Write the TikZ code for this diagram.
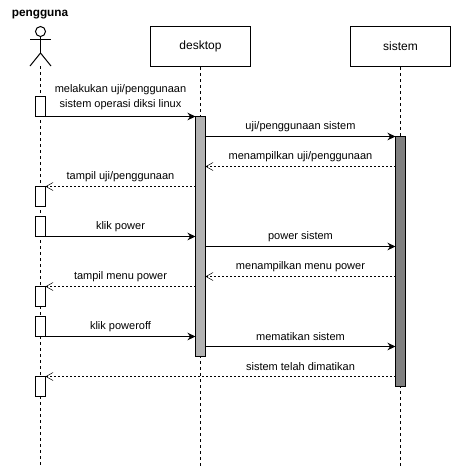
\documentclass[tikz,border=0pt]{standalone}
\usepackage{fontspec}
\setmainfont{Liberation Sans}
\usetikzlibrary{arrows.meta}
\tikzset{
    head/.style={draw, line width=1pt, minimum width=100pt, minimum height=40pt, font=\fontsize{12}{14}\selectfont},
    life/.style={line width=1pt, dash pattern=on 3pt off 3pt},
    bar/.style={draw, line width=1pt, minimum width=10pt, inner sep=0pt, outer sep=0pt, fill=white},
    msg/.style={line width=1pt, -{Stealth[length=8pt,width=7.5pt]}},
    back/.style={line width=0.5pt, dash pattern=on 2pt off 2pt, -{Straight Barb[length=7pt,width=8pt,line width=0.5pt]}},
    lbl/.style={inner sep=0pt, align=center, font=\fontsize{11}{15}\selectfont}
}
\begin{document}
\begin{tikzpicture}[x=1pt, y=-1pt]
    \useasboundingbox (0,0) rectangle (451,467);
    \node[lbl, font=\fontsize{11.8}{14}\selectfont\bfseries] (actorname) at (40,15) {pengguna};

    % actor
    \coordinate (hip) at (40.5,53);
    \coordinate (armL) at (30,39.5);
    \coordinate (armR) at (51,39.5);
    \coordinate (legL) at (30,66);
    \coordinate (legR) at (51,66);
    \node[draw, line width=1pt, circle, minimum size=10pt, inner sep=0pt] (actorhead) at (40.5,31.5) {};
    \draw[line width=1pt] (actorhead) -- (hip);
    \draw[line width=1pt] (armL) -- (armR);
    \draw[line width=1pt] (legL) -- (hip) -- (legR);

    \node[head] (desktop) at (200.5,46.5) {desktop};
    \node[head] (sistem) at (400.5,46.5) {sistem};

    \coordinate (startU) at (40.5,66);
    \coordinate (endU) at (40.5,466);
    \coordinate (endD) at (200.5,466);
    \coordinate (endS) at (400.5,466);
    \draw[life] (startU) -- (endU);
    \draw[life] (desktop.south) -- (endD);
    \draw[life] (sistem.south) -- (endS);

    % bars of the actor
    \foreach \name/\y in {ua/106.5, ub/196.5, uc/226.5, ud/296.5, ue/326.5, uf/386.5} {
        \node[bar, minimum height=20pt] (\name) at (40.5,\y) {};
    }
    \node[bar, fill=black!30, minimum height=240pt] (bard) at (200.5,236.5) {};
    \node[bar, fill=black!50, minimum height=250pt] (bars) at (400.5,261.5) {};

    % rows of the messages
    \foreach \name/\y in {r1/136, r2/166, r5/246, r6/276, r9/346, r10/376} {
        \coordinate (\name) at (0,\y+0.5);
    }

    \draw[msg] (ua.south east) -- (bard.north west);
    \draw[msg] (bard.east |- r1) -- (bars.west |- r1);
    \draw[back] (bars.west |- r2) -- (bard.east |- r2);
    \draw[back] (bard.west |- ub.north) -- (ub.north east);
    \draw[msg] (uc.south east) -- (bard.west |- uc.south);
    \draw[msg] (bard.east |- r5) -- (bars.west |- r5);
    \draw[back] (bars.west |- r6) -- (bard.east |- r6);
    \draw[back] (bard.west |- ud.north) -- (ud.north east);
    \draw[msg] (ue.south east) -- (bard.west |- ue.south);
    \draw[msg] (bard.east |- r9) -- (bars.west |- r9);
    \draw[back] (bars.west |- uf.north) -- (uf.north east);

    \node[lbl] (t1) at (120.5,97) {melakukan uji/penggunaan\\sistem operasi diksi linux};
    \node[lbl] (t2) at (300.5,127) {uji/penggunaan sistem};
    \node[lbl] (t3) at (300.5,157) {menampilkan uji/penggunaan};
    \node[lbl] (t4) at (120.5,177) {tampil uji/penggunaan};
    \node[lbl] (t5) at (120.5,227) {klik power};
    \node[lbl] (t6) at (300.5,237) {power sistem};
    \node[lbl] (t7) at (300.5,267) {menampilkan menu power};
    \node[lbl] (t8) at (120.5,277) {tampil menu power};
    \node[lbl] (t9) at (120.5,327) {klik poweroff};
    \node[lbl] (t10) at (300.5,337) {mematikan sistem};
    \node[lbl] (t11) at (300.5,367) {sistem telah dimatikan};
\end{tikzpicture}
\end{document}
